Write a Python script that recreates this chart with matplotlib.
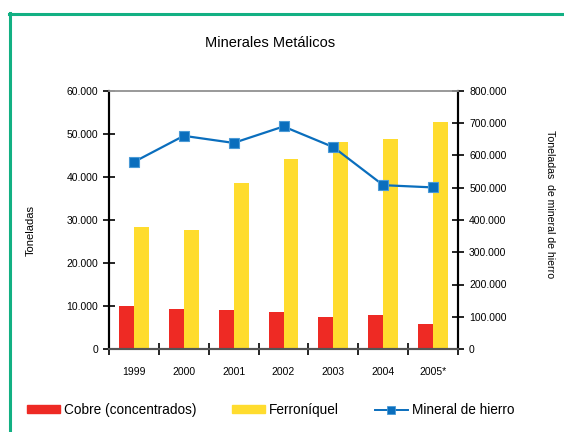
import numpy as np
import matplotlib.pyplot as plt
from matplotlib.ticker import FuncFormatter, FixedLocator
from matplotlib.lines import Line2D
from matplotlib.patches import Patch

plt.rcParams['font.family'] = ['Liberation Sans Narrow', 'Liberation Sans', 'DejaVu Sans']

# datos
anios = ['1999', '2000', '2001', '2002', '2003', '2004', '2005*']
cobre = [10000, 9300, 9100, 8600, 7400, 7900, 5800]
ferroniquel = [28400, 27700, 38600, 44200, 48100, 48800, 52800]
hierro = [580000, 661000, 639000, 690000, 626000, 508000, 501000]

rojo = '#ee2a24'
amarillo = '#ffdc2e'
azul = '#0a6ebd'
verde = '#12b083'

def miles(v, pos):
    return '{:,.0f}'.format(v).replace(',', '.')

fig = plt.figure(figsize=(5.64, 4.32), dpi=100)
ax = fig.add_axes([109/564, 1-349/432, 349/564, 258/432])

x = np.arange(len(anios))
w = 0.3
ax.bar(x - w/2, cobre, w, color=rojo, zorder=2)
ax.bar(x + w/2, ferroniquel, w, color=amarillo, zorder=2)

ax.set_xlim(-0.5, len(anios) - 0.5)
ax.set_ylim(0, 60000)
ax.yaxis.set_major_locator(FixedLocator(np.arange(0, 60001, 10000)))
ax.yaxis.set_major_formatter(FuncFormatter(miles))
ax.set_xticks(np.arange(-0.5, len(anios), 1))
ax.set_xticklabels([])
ax.set_xticks(x, minor=True)
ax.set_xticklabels(anios, minor=True)
ax.tick_params(axis='x', which='major', direction='inout', length=8, width=1.2)
ax.tick_params(axis='x', which='minor', length=0, pad=13, labelsize=7.5)
ax.tick_params(axis='y', direction='inout', length=8, width=1.2, labelsize=7.5, pad=4)
ax.set_ylabel('Toneladas', fontsize=8, labelpad=22)
ax.yaxis.label.set_y(0.46)

ax2 = ax.twinx()
ax2.plot(x, hierro, color=azul, lw=1.6, marker='s', markersize=7,
         markeredgecolor='#4a9ad6', markeredgewidth=0.8, zorder=3)
ax2.set_ylim(0, 800000)
ax2.yaxis.set_major_locator(FixedLocator(np.arange(0, 800001, 100000)))
ax2.yaxis.set_major_formatter(FuncFormatter(miles))
ax2.tick_params(axis='y', direction='inout', length=8, width=1.2, labelsize=7.5, pad=4)
ax2.set_ylabel('Toneladas  de mineral de hierro', fontsize=7.6, rotation=-90, labelpad=35)
ax2.yaxis.label.set_y(0.56)

for a in (ax, ax2):
    a.spines['top'].set_color('#999999')
    a.spines['top'].set_linewidth(1.2)
    a.spines['bottom'].set_color('#555555')
    a.spines['bottom'].set_linewidth(1.5)
    a.spines['left'].set_color('black')
    a.spines['left'].set_linewidth(1.5)
    a.spines['right'].set_color('black')
    a.spines['right'].set_linewidth(1.5)

fig.text(270/564, 1 - 43/432, 'Minerales Metálicos', ha='center', va='center', fontsize=10.5)

# marco verde
fig.add_artist(Line2D([9.5/564, 9.5/564], [0, 1 - 13/432], color=verde, lw=2.2,
                      transform=fig.transFigure))
fig.add_artist(Line2D([9/564, 1], [1 - 13.5/432, 1 - 13.5/432], color=verde, lw=2.2,
                      transform=fig.transFigure))

handles = [Patch(color=rojo), Patch(color=amarillo),
           Line2D([], [], color=azul, marker='s', markersize=6, lw=1.4,
                  markeredgecolor='#4a9ad6', markeredgewidth=0.6)]
etiquetas = ['Cobre (concentrados)', 'Ferroníquel', 'Mineral de hierro']
fig.legend(handles, etiquetas, loc='center left', bbox_to_anchor=(0.026, 1 - 410/432),
           ncol=3, frameon=False, fontsize=9.8, handlelength=2.4, handleheight=0.55,
           handletextpad=0.3, columnspacing=2.65)

fig.savefig('out.png', dpi=100)
